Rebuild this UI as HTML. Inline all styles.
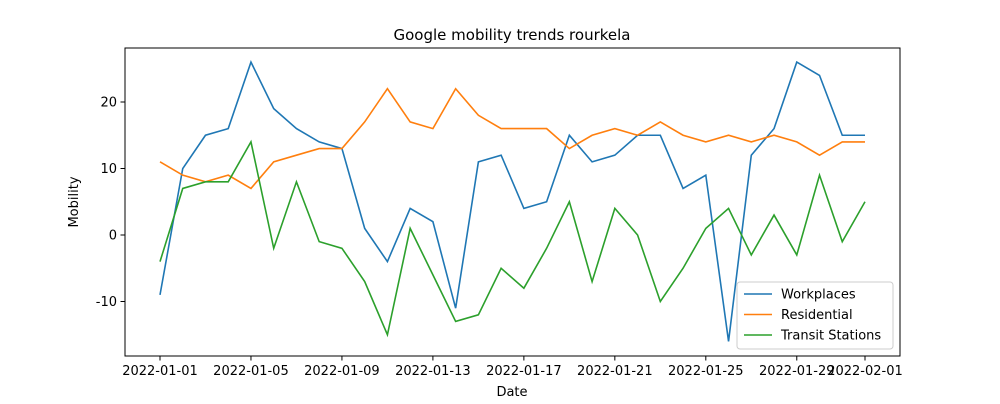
<!DOCTYPE html>
<html><head><meta charset="utf-8"><style>
body{margin:0;background:#fff;font-family:"DejaVu Sans","Liberation Sans",sans-serif;}
svg text{font-family:"DejaVu Sans","Liberation Sans",sans-serif;}
</style></head><body>
<svg id="chart" width="1000" height="400" xmlns="http://www.w3.org/2000/svg">
<rect width="1000" height="400" fill="#fff"/>
<text x="512" y="40" font-size="15" text-anchor="middle">Google mobility trends rourkela</text>
<g id="plot"></g>
<rect x="125" y="48" width="775" height="308" fill="none" stroke="#000" stroke-width="1"/>
<text x="512" y="396" font-size="13" text-anchor="middle">Date</text>
<text x="78" y="202" font-size="13" text-anchor="middle" transform="rotate(-90 78 202)">Mobility</text>
</svg>
<script>
const workplaces=[-9,10,15,16,26,19,16,14,13,1,-4,4,2,-11,11,12,4,5,15,11,12,15,15,7,9,-16,12,16,26,24,15,15];
const residential=[11,9,8,9,7,11,12,13,13,17,22,17,16,22,18,16,16,16,13,15,16,15,17,15,14,15,14,15,14,12,14,14];
const transit=[-4,7,8,8,14,-2,8,-1,-2,-7,-15,1,-6,-13,-12,-5,-8,-2,5,-7,4,0,-10,-5,1,4,-3,3,-3,9,-1,5];
const xTickDays=[0,4,8,12,16,20,24,28,31];
const xTickLabels=["2022-01-01","2022-01-05","2022-01-09","2022-01-13","2022-01-17","2022-01-21","2022-01-25","2022-01-29","2022-02-01"];
const yTicks=[-10,0,10,20];
const seriesNames=["Workplaces","Residential","Transit Stations"];
const colors=["#1f77b4","#ff7f0e","#2ca02c"];

const NS="http://www.w3.org/2000/svg";
const g=document.getElementById('plot');
const X0=160,X1=865,Y0=235,PY=6.65;
const x=d=>X0+(X1-X0)*d/31;
const y=v=>Y0-v*PY;
function mk(t,a){const e=document.createElementNS(NS,t);for(const k in a)e.setAttribute(k,a[k]);g.appendChild(e);return e;}
xTickDays.forEach((d,i)=>{
  const l=mk('line',{x1:x(d),x2:x(d),y1:356,y2:360.5,stroke:'#000'});
  
  
  const t=mk('text',{x:x(d),y:375,'font-size':13,'text-anchor':'middle'});t.textContent=xTickLabels[i];
  
  
});
yTicks.forEach(v=>{
  const l=mk('line',{x1:120.5,x2:125,y1:y(v),y2:y(v),stroke:'#000'});
  
  
  const t=mk('text',{x:117,y:y(v)+4.5,'font-size':13,'text-anchor':'end'});t.textContent=v;
  
  
});
[workplaces,residential,transit].forEach((s,i)=>{
  const p=mk('polyline',{points:s.map((v,d)=>x(d)+','+y(v)).join(' '),fill:'none',stroke:colors[i],'stroke-width':1.6});
  
  
});
const lg=mk('rect',{x:737,y:282,width:156,height:67,rx:3,fill:'#fff','fill-opacity':0.8,stroke:'#ccc'});


seriesNames.forEach((n,i)=>{
  const yy=294+i*20.5;
  const l=mk('line',{x1:744,x2:772,y1:yy,y2:yy,stroke:colors[i],'stroke-width':1.6});
  
  
  const t=mk('text',{x:781,y:yy+4.5,'font-size':13});t.textContent=n;
  
  
});
</script>
</body></html>
